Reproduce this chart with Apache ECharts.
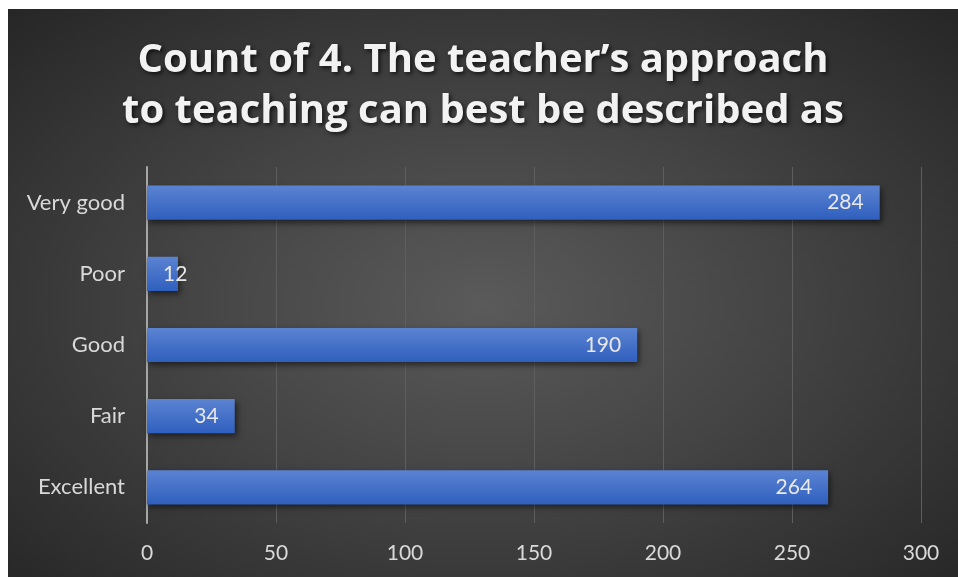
<!DOCTYPE html>
<html>
<head>
<meta charset="utf-8">
<script src="https://cdn.jsdelivr.net/npm/echarts@6/dist/echarts.min.js"></script>
<style>
  html, body { margin: 0; padding: 0; background: #fff; }
  #chart {
    position: absolute; left: 8px; top: 9px; width: 950px; height: 568px;
    background: radial-gradient(ellipse at 50% 52%, #5a5a5a 0%, #444 45%, #262626 100%);
  }
</style>
</head>
<body>
<div id="chart"></div>
<script>
  // categories listed bottom-to-top, as the category axis draws them
  var categories = ['Excellent', 'Fair', 'Good', 'Poor', 'Very good'];
  var counts = [264, 34, 190, 12, 284];
  var titleLines = ['Count of 4. The teacher\u2019s approach', 'to teaching can best be described as'];

  // short bars: Excel lets the label run past the bar end
  var barData = counts.map(function(v) {
    if (v >= 20) return v;
    return { value: v, label: { position: 'insideLeft', distance: 16 } };
  });

  var chart = echarts.init(document.getElementById('chart'));
  chart.setOption({
    backgroundColor: 'transparent',
    title: {
      text: titleLines.join('\n'),
      left: 'center',
      top: 21,
      textStyle: {
        color: '#f2f2f2',
        fontFamily: 'Open Sans',
        fontWeight: 'bold',
        fontSize: 40,
        lineHeight: 51,
        textShadowColor: 'rgba(0,0,0,0.7)',
        textShadowBlur: 4,
        textShadowOffsetX: 2,
        textShadowOffsetY: 2
      }
    },
    grid: { left: 139, right: 37, top: 158, height: 356 },
    xAxis: {
      type: 'value',
      min: 0,
      max: 300,
      interval: 50,
      axisLine: { show: false },
      axisTick: { show: false },
      axisLabel: { color: '#d9d9d9', fontFamily: 'Lato', fontSize: 21, margin: 20 },
      splitLine: { lineStyle: { color: '#5e5e5e', width: 1 } }
    },
    yAxis: {
      type: 'category',
      data: categories,
      axisLine: { show: true, lineStyle: { color: '#a6a6a6', width: 2 } },
      axisTick: { show: false },
      axisLabel: { color: '#d9d9d9', fontFamily: 'Lato', fontSize: 22, margin: 22 }
    },
    series: [{
      type: 'bar',
      data: barData,
      barCategoryGap: '52%',
      itemStyle: {
        color: new echarts.graphic.LinearGradient(0, 0, 0, 1, [
          { offset: 0, color: '#5b83d2' },
          { offset: 1, color: '#2f5fbe' }
        ]),
        shadowColor: 'rgba(0,0,0,0.55)',
        shadowBlur: 6,
        shadowOffsetX: 2,
        shadowOffsetY: 3
      },
      label: {
        show: true,
        position: 'insideRight',
        distance: 16,
        color: '#e8e8e8',
        fontFamily: 'Lato',
        fontSize: 21
      }
    }]
  });
</script>
</body>
</html>
